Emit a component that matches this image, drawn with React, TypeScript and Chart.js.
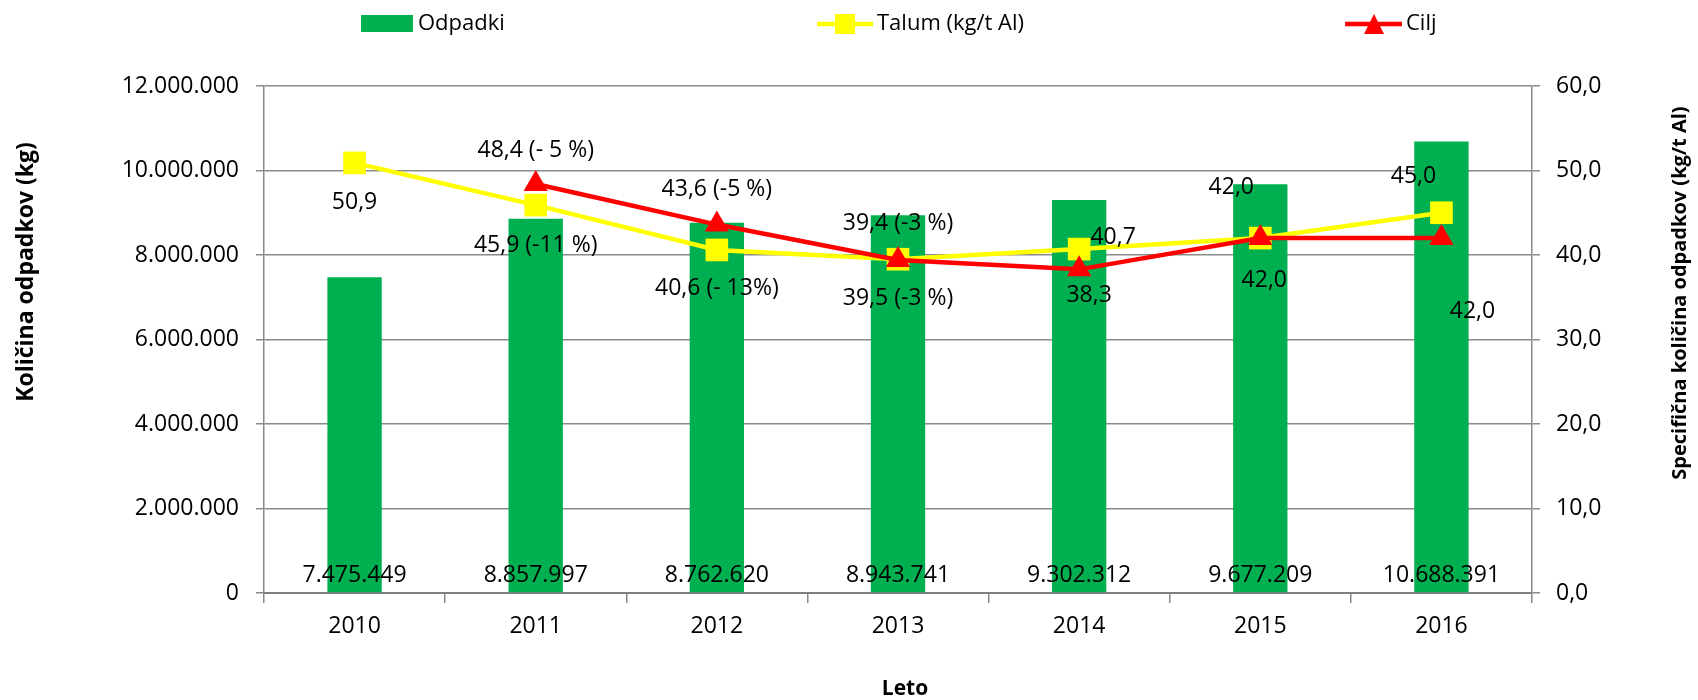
import React, { useEffect, useRef } from 'react';
import { Chart, registerables } from 'chart.js';

Chart.register(...registerables);

const FONT = "'Open Sans', sans-serif";

const years = ['2010', '2011', '2012', '2013', '2014', '2015', '2016'];
const odpadki = [7475449, 8857997, 8762620, 8943741, 9302312, 9677209, 10688391];
const talum = [50.9, 45.9, 40.6, 39.5, 40.7, 42.0, 45.0];
const cilj: (number | null)[] = [null, 48.4, 43.6, 39.4, 38.3, 42.0, 42.0];
const talumLabels = ['50,9', '45,9 (-11 %)', '40,6 (- 13%)', '39,5 (-3 %)', '40,7', '42,0', '45,0'];
const ciljLabels = ['', '48,4 (- 5 %)', '43,6 (-5 %)', '39,4 (-3 %)', '38,3', '42,0', '42,0'];
const leftTicksMax = 12000000;
const leftTicksStep = 2000000;
const rightTicksMax = 60;
const rightTicksStep = 10;

// label placement (pixel offsets from the point centre)
const talumLabelOffsets = [[0, 40], [0, 40], [0, 39], [0, 39], [34, -12], [4, 42], [-28, -36]];
const ciljLabelOffsets = [[0, 0], [0, -34], [0, -35], [0, -37], [10, 26], [-29, -51], [31, 73]];

const GREEN = '#00B050';
const YELLOW = '#FFFF00';
const RED = '#FF0000';
const GRID = '#8a8a8a';

const fmtThousands = (v: number) => String(Math.round(v)).replace(/\B(?=(\d{3})+(?!\d))/g, '.');
const fmtDec = (v: number) => v.toFixed(1).replace('.', ',');

function drawTriangle(ctx: CanvasRenderingContext2D, x: number, y: number, w: number, h: number) {
  ctx.beginPath();
  ctx.moveTo(x, y - h / 2);
  ctx.lineTo(x + w / 2, y + h / 2);
  ctx.lineTo(x - w / 2, y + h / 2);
  ctx.closePath();
  ctx.fill();
}

const overlay = {
  id: 'overlay',
  afterDatasetsDraw(chart: any) {
    const ctx: CanvasRenderingContext2D = chart.ctx;
    ctx.save();
    ctx.fillStyle = '#000';
    ctx.font = `23px ${FONT}`;
    ctx.textAlign = 'center';
    ctx.textBaseline = 'middle';
    const y0 = chart.scales.y.getPixelForValue(0);
    chart.getDatasetMeta(0).data.forEach((el: any, i: number) => {
      ctx.fillText(fmtThousands(odpadki[i]), el.x, y0 - 18);
    });
    chart.getDatasetMeta(1).data.forEach((el: any, i: number) => {
      if (talum[i] == null) return;
      const [dx, dy] = talumLabelOffsets[i];
      ctx.fillText(talumLabels[i], el.x + dx, el.y + dy);
    });
    chart.getDatasetMeta(2).data.forEach((el: any, i: number) => {
      if (cilj[i] == null) return;
      const [dx, dy] = ciljLabelOffsets[i];
      ctx.fillText(ciljLabels[i], el.x + dx, el.y + dy);
    });
    ctx.restore();
  },
  afterDraw(chart: any) {
    const ctx: CanvasRenderingContext2D = chart.ctx;
    const ds = chart.data.datasets;
    ctx.save();
    // legend
    ctx.font = `22px ${FONT}`;
    ctx.textAlign = 'left';
    ctx.textBaseline = 'middle';
    const ly = 24;
    ctx.fillStyle = GREEN;
    ctx.fillRect(361, 15, 52, 17);
    ctx.fillStyle = '#000';
    ctx.fillText(ds[0].label, 418, ly);

    ctx.strokeStyle = YELLOW;
    ctx.lineWidth = 4.5;
    ctx.beginPath();
    ctx.moveTo(817, ly);
    ctx.lineTo(873, ly);
    ctx.stroke();
    ctx.fillStyle = YELLOW;
    ctx.fillRect(835, ly - 10, 20, 20);
    ctx.fillStyle = '#000';
    ctx.fillText(ds[1].label, 877, ly);

    ctx.strokeStyle = RED;
    ctx.beginPath();
    ctx.moveTo(1345, ly);
    ctx.lineTo(1402, ly);
    ctx.stroke();
    ctx.fillStyle = RED;
    drawTriangle(ctx, 1374, ly, 20, 20);
    ctx.fillStyle = '#000';
    ctx.fillText(ds[2].label, 1406, ly);

    // axis titles
    ctx.textAlign = 'center';
    ctx.font = `bold 23px ${FONT}`;
    ctx.save();
    ctx.translate(26, 272);
    ctx.rotate(-Math.PI / 2);
    ctx.fillText('Količina odpadkov (kg)', 0, 0);
    ctx.restore();
    ctx.font = `bold 20px ${FONT}`;
    ctx.save();
    ctx.translate(1680, 293);
    ctx.rotate(-Math.PI / 2);
    ctx.fillText('Specifična količina odpadkov (kg/t Al)', 0, 0);
    ctx.restore();
    ctx.font = `bold 21px ${FONT}`;
    ctx.fillText('Leto', 905, 689);
    ctx.restore();
  },
};

export default function App() {
  const ref = useRef<HTMLCanvasElement>(null);
  useEffect(() => {
    const tickFont = { family: FONT, size: 23 };
    const chart = new Chart(ref.current!, {
      type: 'bar',
      data: {
        labels: years,
        datasets: [
          {
            type: 'bar',
            label: 'Odpadki',
            data: odpadki,
            backgroundColor: GREEN,
            borderWidth: 0,
            barPercentage: 0.6,
            categoryPercentage: 0.5,
            yAxisID: 'y',
            order: 3,
          } as any,
          {
            type: 'line',
            label: 'Talum (kg/t Al)',
            data: talum,
            borderColor: YELLOW,
            backgroundColor: YELLOW,
            borderWidth: 4.5,
            pointStyle: 'rect',
            pointRadius: 16,
            pointBorderWidth: 0,
            pointBackgroundColor: YELLOW,
            tension: 0,
            yAxisID: 'y1',
            order: 2,
          },
          {
            type: 'line',
            label: 'Cilj',
            data: cilj,
            borderColor: RED,
            backgroundColor: RED,
            borderWidth: 4.5,
            pointStyle: 'triangle',
            pointRadius: 14,
            pointBorderWidth: 0,
            pointBackgroundColor: RED,
            tension: 0,
            yAxisID: 'y1',
            order: 1,
          },
        ],
      },
      options: {
        responsive: false,
        animation: false,
        layout: { padding: { top: 86, left: 0, right: 0, bottom: 0 } },
        plugins: { legend: { display: false }, tooltip: { enabled: false } },
        scales: {
          x: {
            type: 'category',
            offset: true,
            afterFit: (s: any) => { s.height = 107; },
            grid: { offset: true, drawOnChartArea: false, color: GRID, lineWidth: 1.5, tickLength: 10 },
            border: { color: '#7f7f7f', width: 2 },
            ticks: { font: tickFont, color: '#000', padding: 10 },
          },
          y: {
            position: 'left',
            min: 0,
            max: leftTicksMax,
            afterFit: (s: any) => { s.width = 264; },
            ticks: { stepSize: leftTicksStep, font: tickFont, color: '#000', padding: 17, callback: (v: any) => fmtThousands(Number(v)) },
            grid: { color: GRID, lineWidth: 1.5, tickLength: 8 },
            border: { color: GRID, width: 1.5 },
          },
          y1: {
            position: 'right',
            min: 0,
            max: rightTicksMax,
            afterFit: (s: any) => { s.width = 166; },
            ticks: { stepSize: rightTicksStep, font: tickFont, color: '#000', padding: 16, callback: (v: any) => fmtDec(Number(v)) },
            grid: { drawOnChartArea: false, color: GRID, lineWidth: 1.5, tickLength: 8 },
            border: { color: GRID, width: 1.5 },
          },
        },
      },
      plugins: [overlay],
    });
    return () => chart.destroy();
  }, []);
  return (
    <div style={{ position: 'absolute', left: 0, top: 0, width: 1698, height: 700, background: '#fff' }}>
      <canvas ref={ref} width={1698} height={700} style={{ display: 'block', width: 1698, height: 700 }} />
    </div>
  );
}
